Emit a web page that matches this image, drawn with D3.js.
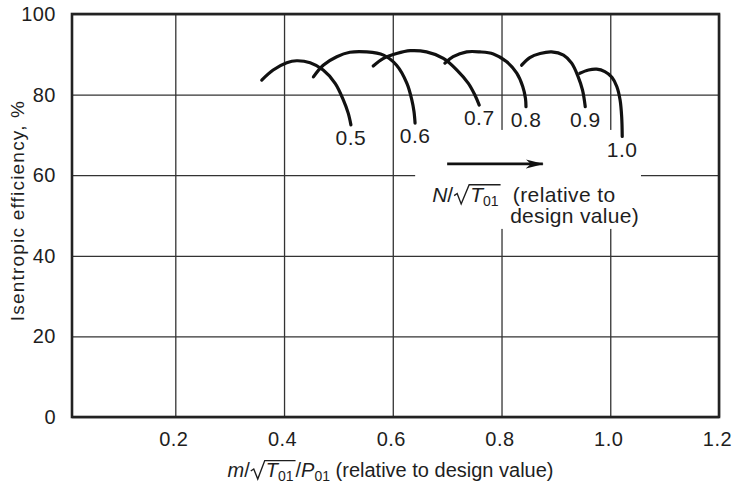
<!DOCTYPE html>
<html>
<head>
<meta charset="utf-8">
<script src="https://cdn.jsdelivr.net/npm/d3@7"></script>
<style>
body { margin: 0; background: #fff; }
text { font-family: "Liberation Sans", Arial, Helvetica, sans-serif; fill: #1e1e1e; }
</style>
</head>
<body>
<div class="mapDiv"></div>
<script>
// tick values of the two axes
var xTicks = [0.2, 0.4, 0.6, 0.8, 1.0, 1.2];
var yTicks = [0, 20, 40, 60, 80, 100];

// speed lines: [relative mass flow, isentropic efficiency %]
var speed05 = [[0.359, 83.6], [0.380, 86.1], [0.405, 87.9], [0.423, 88.4], [0.448, 87.9], [0.472, 86.1], [0.494, 82.8], [0.509, 78.7], [0.518, 75.4], [0.523, 72.5]];
var speed06 = [[0.454, 84.4], [0.472, 87.3], [0.497, 89.4], [0.521, 90.5], [0.552, 90.6], [0.583, 89.8], [0.607, 87.3], [0.626, 82.8], [0.635, 78.7], [0.639, 75.8], [0.641, 72.9]];
var speed07 = [[0.564, 87.1], [0.583, 89.0], [0.607, 90.2], [0.632, 90.9], [0.662, 90.6], [0.693, 89.0], [0.718, 86.1], [0.739, 82.8], [0.751, 79.9], [0.759, 77.4]];
var speed08 = [[0.696, 87.8], [0.711, 89.4], [0.736, 90.6], [0.760, 90.6], [0.785, 90.1], [0.809, 88.2], [0.828, 85.3], [0.839, 82.0], [0.844, 79.1], [0.845, 77.0]];
var speed09 = [[0.837, 87.3], [0.852, 89.2], [0.871, 90.2], [0.892, 90.6], [0.914, 89.8], [0.929, 87.8], [0.941, 84.4], [0.949, 81.1], [0.954, 77.0]];
var speed10 = [[0.944, 85.3], [0.960, 86.1], [0.975, 86.3], [0.990, 85.7], [1.003, 84.3], [1.012, 82.0], [1.018, 78.7], [1.021, 74.5], [1.022, 69.6]];

var speedNames = ["0.5", "0.6", "0.7", "0.8", "0.9", "1.0"];

// arrow showing increasing speed
var arrowFlow = [0.700, 0.876];
var arrowEff = 62.8;

compressorMap();

// draws a root sign in front of char "from" and a bar up to char "to"
function rootSign(g, textNode, from, to, baseY, size)
{
	var slash = textNode.getEndPositionOfChar(from - 1).x;
	var start = textNode.getStartPositionOfChar(from).x;
	var end = textNode.getEndPositionOfChar(to).x;
	var top = baseY - size * 0.82;
	var path = d3.path();
	path.moveTo(slash + 1, baseY - size * 0.3);
	path.lineTo(slash + 4, baseY - size * 0.4);
	path.lineTo(slash + 8, baseY + 2);
	path.lineTo(start - 1, top);
	path.lineTo(end + 2, top);
	g.append("path")
		.attr("d", path.toString())
		.attr("fill", "none")
		.attr("stroke", "#1e1e1e")
		.attr("stroke-width", 1.4);
}

function compressorMap()
{
	var margin = {top: 14, right: 20, bottom: 71, left: 72};
	var width = 739 - margin.left - margin.right;
	var height = 488 - margin.top - margin.bottom;

	var xScale = d3.scaleLinear().domain([0.01, 1.2]).range([0, width]);
	var yScale = d3.scaleLinear().domain([0, 100]).range([height, 0]);

	var svg = d3.select(".mapDiv").append("svg")
		.attr("width", 739)
		.attr("height", 488)
		.append("g")
		.attr("transform", "translate(" + margin.left + "," + margin.top + ")");

	// grid lines come from the axes
	var xAxis = svg.append("g")
		.attr("transform", "translate(0," + height + ")")
		.call(d3.axisBottom(xScale).tickValues(xTicks).tickSize(-height).tickPadding(15).tickFormat(d3.format(".1f")));
	xAxis.select(".domain").remove();
	xAxis.selectAll("line").attr("stroke", "#333").attr("stroke-width", 1.3);
	xAxis.selectAll("text").attr("font-size", "20px").attr("letter-spacing", "0.5px").attr("dx", -2).style("font-family", null);

	var yAxis = svg.append("g")
		.call(d3.axisLeft(yScale).tickValues(yTicks).tickSize(-width).tickPadding(16).tickFormat(d3.format("d")));
	yAxis.select(".domain").remove();
	yAxis.selectAll("line").attr("stroke", "#333").attr("stroke-width", 1.3);
	yAxis.selectAll("text").attr("font-size", "20px").attr("letter-spacing", "0.5px").style("font-family", null);
	svg.selectAll(".tick text").attr("fill", "#1e1e1e");

	// white patch behind the note, filled in later
	var mask = svg.append("g");

	svg.append("rect")
		.attr("width", width)
		.attr("height", height)
		.attr("fill", "none")
		.attr("stroke", "#222")
		.attr("stroke-width", 2.6);

	// speed lines
	var line = d3.line()
		.x(function (d) { return xScale(d[0]); })
		.y(function (d) { return yScale(d[1]); })
		.curve(d3.curveCatmullRom.alpha(0.5));

	var speedLines = [speed05, speed06, speed07, speed08, speed09, speed10];

	svg.selectAll(".speed")
		.data(speedLines)
		.enter().append("path")
		.attr("class", "speed")
		.attr("d", line)
		.attr("fill", "none")
		.attr("stroke", "#111")
		.attr("stroke-width", 3.2)
		.attr("stroke-linecap", "round");

	svg.selectAll(".speedLabel")
		.data(speedLines)
		.enter().append("text")
		.attr("class", "speedLabel")
		.attr("x", function (d) { return xScale(d[d.length - 1][0]); })
		.attr("y", function (d) { return yScale(d[d.length - 1][1]) + 20; })
		.attr("text-anchor", "middle")
		.attr("font-size", "21px")
		.attr("letter-spacing", "0.5px")
		.text(function (d, i) { return speedNames[i]; });

	// arrow and its note
	var defs = svg.append("defs");
	defs.append("marker")
		.attr("id", "head")
		.attr("markerUnits", "userSpaceOnUse")
		.attr("viewBox", "0 -5 18 10")
		.attr("refX", 17)
		.attr("refY", 0)
		.attr("markerWidth", 18)
		.attr("markerHeight", 10)
		.attr("orient", "auto")
		.append("path")
		.attr("d", "M0,-4.5L18,0L0,4.5L5,0Z")
		.attr("fill", "#111");

	var note = svg.append("g");
	var arrowY = yScale(arrowEff);
	note.append("line")
		.attr("x1", xScale(arrowFlow[0]))
		.attr("x2", xScale(arrowFlow[1]))
		.attr("y1", arrowY)
		.attr("y2", arrowY)
		.attr("stroke", "#111")
		.attr("stroke-width", 2.6)
		.attr("marker-end", "url(#head)");

	var noteX = xScale(arrowFlow[0]) - 15;
	var noteY = arrowY + 38;

	var t1 = note.append("text")
		.attr("x", noteX)
		.attr("y", noteY)
		.attr("font-size", "21px");
	t1.append("tspan").style("font-style", "italic").text("N");
	t1.append("tspan").text("/");
	t1.append("tspan").attr("dx", 17).style("font-style", "italic").text("T");
	t1.append("tspan").attr("font-size", "14px").attr("dy", 4).text("01");
	t1.append("tspan").attr("dy", -4).attr("dx", 8).attr("letter-spacing", "0.4px").text(" (relative to");
	rootSign(note, t1.node(), 2, 4, noteY, 21);

	note.append("text")
		.attr("x", noteX + 78)
		.attr("y", noteY + 21)
		.attr("font-size", "21px")
		.attr("letter-spacing", "0.3px")
		.text("design value)");

	var box = note.node().getBBox();
	mask.append("rect")
		.attr("x", box.x - 17)
		.attr("y", arrowY - 34)
		.attr("width", box.width + 19)
		.attr("height", box.y + box.height + 2 - (arrowY - 34))
		.attr("fill", "#fff");

	// axis titles
	svg.append("text")
		.attr("transform", "translate(" + (23.5 - margin.left) + "," + (height / 2 - 5) + ") rotate(-90)")
		.attr("text-anchor", "middle")
		.attr("font-size", "19px")
		.attr("letter-spacing", "1.2px")
		.text("Isentropic efficiency, %");

	var titleY = height + 60;
	var xTitle = svg.append("text")
		.attr("x", width / 2 - 5)
		.attr("y", titleY)
		.attr("text-anchor", "middle")
		.attr("font-size", "20px");
	xTitle.append("tspan").style("font-style", "italic").text("m");
	xTitle.append("tspan").text("/");
	xTitle.append("tspan").attr("dx", 16).style("font-style", "italic").text("T");
	xTitle.append("tspan").attr("font-size", "14px").attr("dy", 4).text("01");
	xTitle.append("tspan").attr("dy", -4).attr("dx", 2).text("/");
	xTitle.append("tspan").style("font-style", "italic").text("P");
	xTitle.append("tspan").attr("font-size", "14px").attr("dy", 4).text("01");
	xTitle.append("tspan").attr("dy", -4).text(" (relative to design value)");
	rootSign(svg, xTitle.node(), 2, 4, titleY, 20);
}
</script>
</body>
</html>
